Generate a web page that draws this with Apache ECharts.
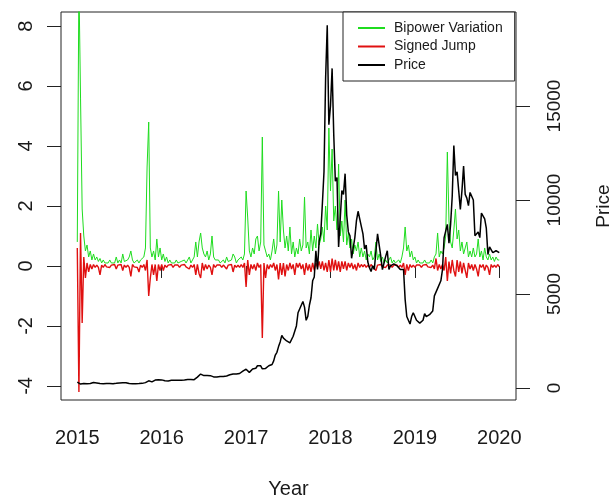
<!DOCTYPE html>
<html>
<head>
<meta charset="utf-8">
<script src="https://cdn.jsdelivr.net/npm/echarts@6/dist/echarts.min.js"></script>
<style>
html,body{margin:0;padding:0;background:#fff;overflow:hidden;width:610px;height:499px;}
#chart{width:610px;height:499px;}
</style>
</head>
<body>
<div id="chart"></div>
<script>
// Weekly observations, 2015-01 .. 2020-01 (52 per year + final point)
var startYear = 2015;
var perYear = 52;
var xTicks = [2015, 2016, 2017, 2018, 2019, 2020];
var leftTicks = [-4, -2, 0, 2, 4, 6, 8];
var rightTicks = [0, 5000, 10000, 15000];

var bipower = [
  // 2015
  0.8, 9.5, 5.6, 1.9, 1.0, 0.5, 0.7, 0.3, 0.5, 0.2, 0.4, 0.2, 0.3, 0.15, 0.25, 0.1, 0.2, 0.1, 0.15, 0.1,
  0.2, 0.1, 0.15, 0.1, 0.3, 0.1, 0.2, 0.1, 0.4, 0.15, 0.1, 0.2, 0.3, 0.5, 0.2, 0.1, 0.15, 0.2, 0.1, 0.2,
  0.15, 0.3, 0.6, 3.3, 4.8, 0.6, 0.3, 0.5, 0.2, 0.9, 0.3, 0.6,
  // 2016
  0.2, 0.4, 0.15, 0.3, 0.1, 0.2, 0.1, 0.15, 0.1, 0.2, 0.1, 0.1, 0.15, 0.1, 0.2, 0.1, 0.15, 0.3, 0.1, 0.2,
  0.3, 0.8, 0.3, 0.8, 1.1, 0.6, 0.4, 0.3, 0.5, 0.2, 0.4, 1.0, 0.3, 0.2, 0.15, 0.2, 0.1, 0.15, 0.2, 0.1,
  0.3, 0.15, 0.1, 0.2, 0.4, 0.3, 0.1, 0.2, 0.25, 0.3, 0.2, 0.4,
  // 2017
  2.5, 1.6, 0.5, 0.3, 0.6, 0.4, 0.9, 1.0, 0.5, 0.8, 4.3, 0.7, 0.5, 0.3, 0.4, 0.2, 0.5, 0.9, 0.4, 0.7,
  2.5, 0.8, 2.2, 1.2, 0.6, 1.0, 0.5, 1.3, 0.4, 0.8, 0.3, 0.6, 0.4, 0.9, 0.5, 0.7, 2.3, 0.6, 0.8, 0.4,
  1.2, 0.5, 1.0, 0.6, 1.4, 0.7, 0.9, 1.3, 0.8, 2.0, 1.2, 4.6,
  // 2018
  2.5, 3.9, 1.5, 2.0, 1.2, 3.4, 1.0, 1.5, 0.8, 2.2, 0.7, 1.1, 0.6, 0.9, 0.4, 0.7, 0.5, 0.8, 0.3, 0.6,
  0.3, 0.5, 0.2, 0.4, 0.3, 0.5, 0.2, 0.3, 0.8, 0.2, 0.4, 0.15, 0.3, 0.1, 0.2, 0.1, 0.15, 0.3, 0.1, 0.2,
  0.1, 0.15, 0.2, 0.1, 0.3, 0.6, 1.3, 0.5, 0.7, 0.3, 0.5, 0.2,
  // 2019
  0.3, 0.1, 0.2, 0.1, 0.15, 0.1, 0.2, 0.1, 0.15, 0.1, 0.2, 0.1, 0.3, 0.4, 1.1, 0.3, 0.5, 0.4, 0.6, 1.0,
  3.8, 1.5, 0.8, 0.6, 1.2, 1.9, 0.9, 1.2, 0.5, 0.8, 0.4, 0.6, 0.8, 0.3, 0.5, 0.3, 0.6, 0.3, 0.4, 0.9,
  0.3, 0.5, 0.2, 0.6, 0.3, 0.2, 0.4, 0.2, 0.3, 0.15, 0.3, 0.2,
  // 2020
  0.2
];

var signedJump = [
  // 2015
  0.6, -4.2, 1.1, -1.9, 0.3, -0.4, 0.1, -0.2, 0.05, -0.1, 0.05, -0.05, 0.03, -0.05, -0.3, 0.03, -0.05, 0.05, -0.03, 0.03,
  -0.05, 0.03, -0.03, 0.05, -0.1, 0.03, -0.03, 0.05, -0.15, 0.03, -0.05, 0.03, -0.05, -0.35, 0.05, -0.03, 0.03, -0.05, -0.2, 0.03,
  -0.05, 0.05, -0.15, 0.2, -1.0, -0.4, 0.05, -0.3, 0.05, -0.5, 0.05, -0.15,
  // 2016
  0.05, -0.15, 0.03, -0.05, 0.03, -0.03, 0.05, -0.05, 0.03, -0.03, 0.03, -0.05, 0.03, -0.03, 0.05, -0.03, 0.03, -0.1, 0.03, -0.05,
  0.05, -0.3, 0.05, -0.25, -0.4, 0.1, -0.15, 0.05, -0.1, 0.03, -0.05, -0.3, 0.05, -0.05, 0.03, -0.03, 0.03, -0.05, 0.03, -0.03,
  -0.1, 0.03, -0.03, 0.05, -0.2, 0.03, -0.05, 0.03, -0.05, 0.05, -0.05, 0.1,
  // 2017
  -0.7, 0.2, -0.3, 0.05, -0.1, 0.05, -0.15, 0.1, -0.05, 0.05, -2.4, 0.1, -0.4, 0.05, -0.1, 0.05, -0.05, 0.1, -0.15, 0.05,
  -0.45, 0.1, -0.3, 0.1, -0.35, 0.05, -0.15, 0.1, -0.1, 0.05, -0.3, 0.1, -0.05, 0.1, -0.1, 0.05, -0.3, 0.1, -0.15, 0.05,
  -0.2, 0.1, -0.15, 0.1, -0.05, 0.15, -0.1, 0.15, -0.15, 0.1, -0.2, 0.2,
  // 2018
  -0.2, 0.25, -0.15, 0.2, -0.15, 0.15, -0.2, 0.15, -0.1, 0.15, -0.15, 0.1, -0.05, 0.1, -0.1, 0.05, -0.15, 0.1, -0.05, 0.05,
  -0.03, 0.05, -0.05, 0.03, -0.05, 0.05, -0.03, 0.03, -0.15, 0.03, -0.03, 0.05, -0.03, 0.03, -0.05, 0.03, -0.03, 0.03, -0.05, 0.03,
  -0.03, 0.03, -0.05, 0.03, -0.05, 0.1, -0.3, 0.05, -0.15, 0.05, -0.05, 0.03,
  // 2019
  -0.05, 0.03, -0.03, 0.03, -0.05, 0.03, -0.03, 0.05, -0.03, 0.03, -0.05, 0.03, -0.1, 0.25, -0.15, 0.05, -0.1, 0.05, -0.15, 0.3,
  -0.5, 0.15, -0.25, 0.2, -0.15, -0.35, 0.2, -0.2, 0.15, -0.25, 0.1, -0.15, -0.4, 0.1, -0.1, 0.05, -0.15, 0.05, -0.1, -0.35,
  0.05, -0.05, 0.05, -0.15, 0.03, -0.05, -0.3, 0.05, -0.05, 0.03, -0.05, 0.05,
  // 2020
  -0.03
];

var price = [
  // 2015
  315, 280, 210, 260, 235, 225, 220, 235, 240, 275, 290, 285, 265, 250, 235, 225, 222, 235, 240, 238,
  240, 225, 228, 235, 245, 250, 270, 285, 275, 290, 280, 265, 235, 225, 230, 240, 230, 230, 235, 240,
  245, 265, 285, 360, 380, 330, 325, 390, 420, 450, 440, 430,
  // 2016
  430, 450, 385, 395, 375, 380, 405, 425, 410, 415, 415, 410, 415, 420, 425, 430, 450, 450, 455, 455,
  440, 530, 575, 605, 740, 690, 660, 650, 665, 655, 655, 580, 590, 575, 580, 605, 610, 605, 610, 615,
  640, 700, 700, 710, 740, 735, 740, 750, 770, 790, 895, 960,
  // 2017
  1000, 900, 830, 920, 1010, 990, 1050, 1180, 1260, 1180, 1020, 960, 1040, 1140, 1180, 1200, 1250, 1440, 1750, 1900,
  2200, 2450, 2800, 2650, 2600, 2500, 2600, 2400, 2300, 2750, 2800, 3300, 4000, 4100, 4400, 4600, 4300, 3600, 3800, 4400,
  4800, 5700, 5900, 7300, 6300, 7800, 8200, 9800, 11500, 16500, 19300, 14000,
  // 2018
  15000, 17000, 13500, 11000, 11200, 7500, 9000, 10500, 10300, 11400, 9200, 8300, 8100, 6900, 6900, 8000, 8900, 9400, 9300, 8600,
  8200, 7400, 7600, 6700, 6400, 6200, 6500, 6300, 7300, 8200, 7600, 7000, 6300, 6400, 7000, 7300, 6300, 6500, 6600, 6600,
  6600, 6500, 6500, 6300, 6400, 6300, 4700, 3800, 3900, 3400, 3800, 4000,
  // 2019
  4000, 3600, 3550, 3450, 3400, 3600, 3950, 3800, 3850, 3900, 4000, 4100, 4900, 5100, 5300, 5300, 5700, 6300, 8000, 7900,
  8700, 7700, 8700, 10200, 12900, 11300, 11500, 10500, 9500, 10500, 11800, 10300, 10100, 9700, 10400, 10300, 10000, 8100, 8200, 8300,
  8000, 9300, 9200, 9000, 8500, 7100, 7500, 7400, 7200, 7100, 7300, 7200,
  // 2020
  7200
];

function pairs(vals) {
  return vals.map(function (v, i) { return [startYear + i / perYear, v]; });
}

var font = 'Liberation Sans, Arial, sans-serif';
var ink = '#1a1a1a';

var chart = echarts.init(document.getElementById('chart'), null, { renderer: 'canvas', width: 610, height: 499 });
chart.setOption({
  animation: false,
  backgroundColor: '#ffffff',
  textStyle: { fontFamily: font, color: ink },
  grid: {
    left: 61, right: 94, top: 12, bottom: 99,
    containLabel: false, outerBoundsMode: 'none',
    show: true, borderColor: '#222', borderWidth: 1, backgroundColor: 'transparent'
  },
  legend: {
    orient: 'vertical',
    left: 343, top: 12,
    padding: [9, 12, 9, 14],
    itemWidth: 27, itemHeight: 14, itemGap: 4.5,
    borderColor: '#222', borderWidth: 1, borderRadius: 0,
    backgroundColor: '#fff',
    itemStyle: { opacity: 0 },
    textStyle: { fontSize: 14, fontFamily: font, color: ink, padding: [0, 0, 0, 4] },
    data: ['Bipower Variation', 'Signed Jump', 'Price']
  },
  xAxis: {
    type: 'value',
    min: 2014.807, max: 2020.198,
    name: 'Year', nameLocation: 'middle', nameGap: 79,
    nameTextStyle: { fontSize: 20, color: ink, fontFamily: font },
    axisLine: { show: false },
    axisTick: { show: true, inside: false, length: 12, customValues: xTicks, lineStyle: { color: '#222' } },
    axisLabel: { fontSize: 20, color: ink, margin: 28, customValues: xTicks, formatter: function (v) { return String(v); } },
    splitLine: { show: false }
  },
  yAxis: [
    {
      type: 'value', position: 'left',
      min: -4.47, max: 8.47,
      axisLine: { show: false },
      axisTick: { show: true, inside: false, length: 14, customValues: leftTicks, lineStyle: { color: '#222' } },
      axisLabel: { fontSize: 20, color: ink, rotate: 90, margin: 25, customValues: leftTicks, formatter: function (v) { return String(v); } },
      splitLine: { show: false }
    },
    {
      type: 'value', position: 'right',
      min: -640, max: 20000,
      name: 'Price', nameLocation: 'middle', nameGap: 78, nameRotate: 90,
      nameTextStyle: { fontSize: 19, color: ink, fontFamily: font },
      axisLine: { show: false },
      axisTick: { show: true, inside: false, length: 14, customValues: rightTicks, lineStyle: { color: '#222' } },
      axisLabel: { fontSize: 19, color: ink, rotate: 90, margin: 29, customValues: rightTicks, formatter: function (v) { return String(v); } },
      splitLine: { show: false }
    }
  ],
  series: [
    {
      name: 'Bipower Variation', type: 'line', yAxisIndex: 0,
      data: pairs(bipower), symbol: 'none', clip: true,
      lineStyle: { color: '#1fdc1f', width: 1 }, itemStyle: { color: '#1fdc1f' }, z: 2
    },
    {
      name: 'Signed Jump', type: 'line', yAxisIndex: 0,
      data: pairs(signedJump), symbol: 'none', clip: true,
      lineStyle: { color: '#e01010', width: 1.4 }, itemStyle: { color: '#e01010' }, z: 3
    },
    {
      name: 'Price', type: 'line', yAxisIndex: 1,
      data: pairs(price), symbol: 'none', clip: true,
      lineStyle: { color: '#000', width: 1.5 }, itemStyle: { color: '#000' }, z: 4
    }
  ]
});
</script>
</body>
</html>
